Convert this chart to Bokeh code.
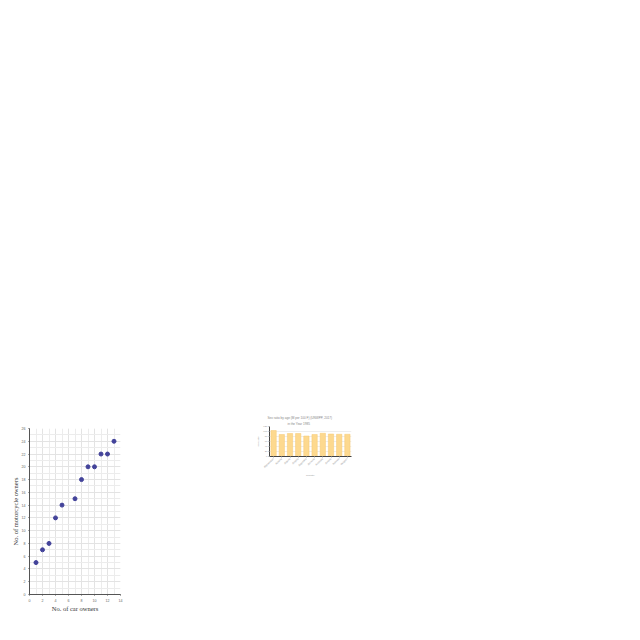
from bokeh.plotting import figure
from bokeh.layouts import column, row, Spacer
from bokeh.models import Range1d, FixedTicker, Title, FactorRange
from bokeh.embed import file_html
from bokeh.resources import INLINE

# scatter data
car_owners = [1, 2, 3, 4, 5, 7, 8, 9, 10, 11, 12, 13]
moto_owners = [5, 7, 8, 12, 14, 15, 18, 20, 20, 22, 22, 24]

# bar data
countries = ["Afghanistan", "Albania", "Algeria", "Angola", "Argentina",
             "Armenia", "Australia", "Austria", "Bahrain", "Belgium"]
ratios = [104, 88, 92, 92, 82, 88, 93, 90, 89, 89]

# ---------- scatter ----------
s = figure(output_backend="svg", toolbar_location=None,
           frame_width=91, frame_height=166,
           x_range=Range1d(0, 14), y_range=Range1d(0, 26),
           min_border_left=29, min_border_right=8, min_border_top=8, min_border_bottom=14)
s.outline_line_color = None
s.background_fill_color = "white"
s.xaxis.ticker = FixedTicker(ticks=list(range(0, 15, 2)), minor_ticks=list(range(0, 15)))
s.yaxis.ticker = FixedTicker(ticks=list(range(0, 27, 2)), minor_ticks=list(range(0, 27)))
for ax in (s.xaxis[0], s.yaxis[0]):
    ax.major_label_text_font_size = "3.6px"
    ax.major_label_text_color = "#666666"
    ax.axis_line_color = "#555555"
    ax.major_tick_line_color = "#555555"
    ax.major_tick_in = 0
    ax.major_tick_out = 1
    ax.minor_tick_line_color = None
    ax.axis_label_text_font = "Liberation Serif"
    ax.axis_label_text_font_style = "normal"
    ax.axis_label_text_font_size = "6.5px"
    ax.axis_label_text_color = "#333333"
    ax.major_label_standoff = 0
    ax.axis_label_standoff = 0
s.xaxis.axis_label = "No. of car owners"
s.yaxis.axis_label = "No. of motorcycle owners"
s.xgrid.grid_line_color = "#dddddd"
s.ygrid.grid_line_color = "#dddddd"
s.xgrid.minor_grid_line_color = "#ececec"
s.ygrid.minor_grid_line_color = "#ececec"
s.xgrid.grid_line_width = 0.6
s.ygrid.grid_line_width = 0.6
s.scatter(car_owners, moto_owners, size=4, color="#43439a")

# ---------- bar ----------
b = figure(output_backend="svg", toolbar_location=None,
           frame_width=82, frame_height=30,
           x_range=FactorRange(*countries), y_range=Range1d(0, 120),
           min_border_left=15, min_border_right=4, min_border_top=2, min_border_bottom=4)
b.outline_line_color = None
b.add_layout(Title(text="in the Year 1985", align="left", text_font_size="3.1px",
                   text_color="#888888", text_font_style="normal", standoff=2, offset=18), "above")
b.add_layout(Title(text="Sex ratio by age (M per 100 F) (UNWPP, 2017)", align="left",
                   text_font_size="3.1px", text_color="#888888", text_font_style="normal",
                   standoff=0, offset=-2), "above")
b.yaxis.ticker = FixedTicker(ticks=list(range(0, 121, 20)))
for ax in (b.xaxis[0], b.yaxis[0]):
    ax.major_label_text_font_size = "2.5px"
    ax.major_label_text_color = "#999999"
    ax.axis_line_color = "#444444"
    ax.major_tick_line_color = "#aaaaaa"
    ax.major_tick_in = 0
    ax.major_tick_out = 1
    ax.minor_tick_line_color = None
    ax.axis_label_text_font_size = "2.5px"
    ax.axis_label_text_color = "#999999"
    ax.axis_label_text_font_style = "normal"
    ax.major_label_standoff = 1
    ax.axis_label_standoff = 1
b.xaxis.major_label_orientation = 0.785
b.xaxis.axis_label = "Country"
b.yaxis.axis_label = "Sex ratio"
b.xgrid.grid_line_color = None
b.ygrid.grid_line_color = "#eeeeee"
b.vbar(x=countries, top=ratios, width=0.65, fill_color="#fdd98f", line_color="#f7c872", line_width=0.5)

layout = column(
    Spacer(height=412),
    row(column(Spacer(height=8), s), Spacer(width=125), column(Spacer(height=2), b)),
)

open("out.html", "w").write(file_html(layout, INLINE))
